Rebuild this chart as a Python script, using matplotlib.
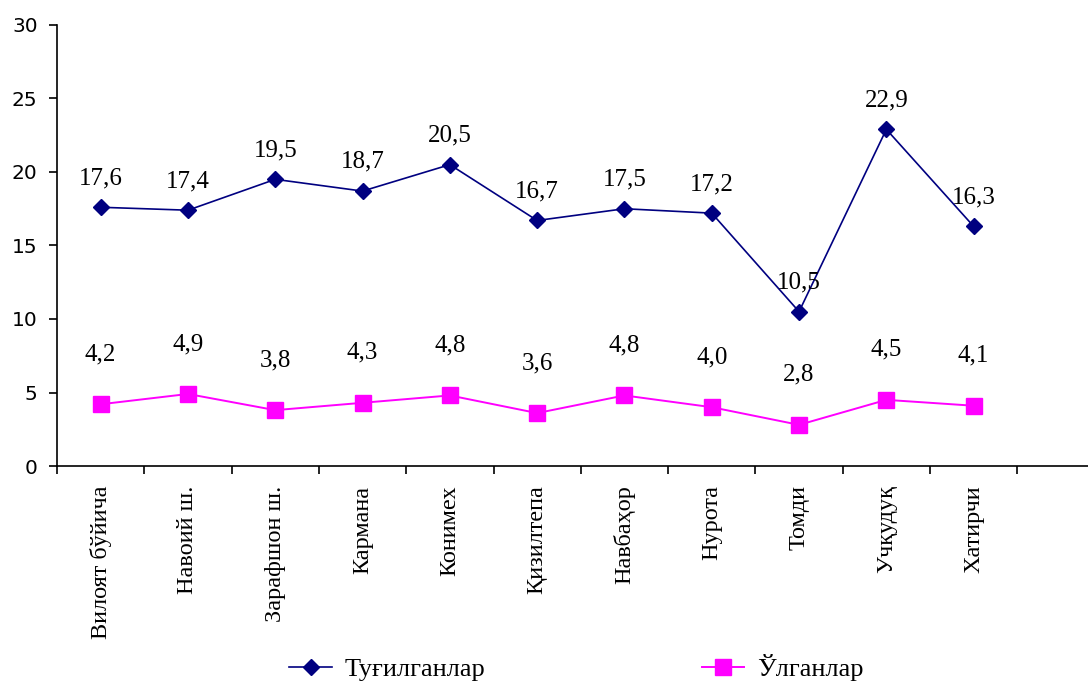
import matplotlib.pyplot as plt
from matplotlib.ticker import FixedLocator, NullFormatter

# ── Маълумотлар ──────────────────────────────────────────
tumanlar = ['Вилоят бўйича', 'Навоий ш.', 'Зарафшон ш.', 'Кармана', 'Конимех',
            'Қизилтепа', 'Навбаҳор', 'Нурота', 'Томди', 'Учқудуқ', 'Хатирчи']
tugilganlar = [17.6, 17.4, 19.5, 18.7, 20.5, 16.7, 17.5, 17.2, 10.5, 22.9, 16.3]
olganlar = [4.2, 4.9, 3.8, 4.3, 4.8, 3.6, 4.8, 4.0, 2.8, 4.5, 4.1]

serif = ['Liberation Serif', 'DejaVu Serif']

fig = plt.figure(figsize=(10.88, 6.84), dpi=100)
ax = fig.add_axes([0.0524, 0.3187, 0.9476, 0.6448])

x = list(range(len(tumanlar)))
ax.plot(x, tugilganlar, color='#000080', lw=1.2, marker='D', ms=8.5,
        label='Туғилганлар')
ax.plot(x, olganlar, color='#FF00FF', lw=1.4, marker='s', ms=11,
        label='Ўлганлар')

for i, v in enumerate(tugilganlar):
    ax.annotate(f"{v:.1f}".replace('.', ','), (i, v), textcoords='offset points',
                xytext=(0, 21), ha='center', va='center', fontsize=18,
                family=serif)
for i, v in enumerate(olganlar):
    ax.annotate(f"{v:.1f}".replace('.', ','), (i, v), textcoords='offset points',
                xytext=(0, 36), ha='center', va='center', fontsize=18,
                family=serif)

ax.set_ylim(0, 30)
ax.set_yticks(range(0, 31, 5))
ax.set_xlim(-0.5, 11.31)
ax.set_xticks(x)
ax.set_xticklabels(tumanlar, rotation=90, fontsize=17.5, family=serif)
ax.tick_params(axis='x', which='major', length=0, pad=14)
ax.xaxis.set_minor_locator(FixedLocator([k - 0.5 for k in range(12)]))
ax.xaxis.set_minor_formatter(NullFormatter())
ax.tick_params(axis='x', which='minor', length=6, width=1.2, direction='out')
ax.tick_params(axis='y', length=6, width=1.2, labelsize=14.5, pad=8)

for s in ['top', 'right']:
    ax.spines[s].set_visible(False)
for s in ['left', 'bottom']:
    ax.spines[s].set_linewidth(1.2)

fig.legend(loc='lower center', bbox_to_anchor=(0.53, -0.03), ncol=2,
           frameon=False, prop={'family': serif, 'size': 19},
           columnspacing=8.2, handlelength=1.6, handletextpad=0.5)

plt.savefig('out.png', dpi=100)
